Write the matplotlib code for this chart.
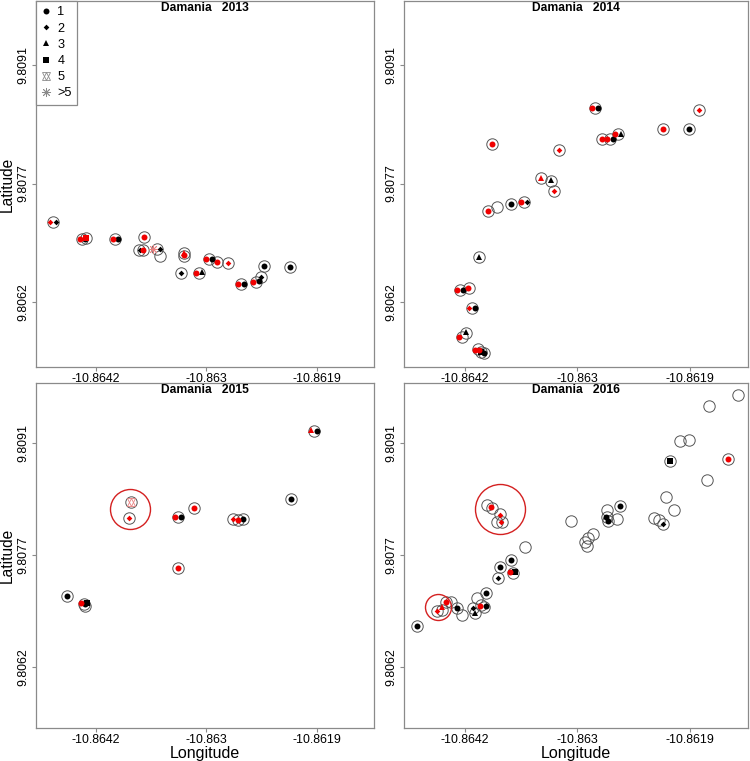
import matplotlib
matplotlib.use("Agg")
import matplotlib.pyplot as plt
from matplotlib.lines import Line2D
from matplotlib.legend_handler import HandlerTuple

plt.rcParams['font.family'] = ['Liberation Sans', 'DejaVu Sans']

# ---------------- data ----------------
years = ['2013', '2014', '2015', '2016']
x_ticks = [-10.86418, -10.86302, -10.86186]
x_tick_labels = ['-10.8642', '-10.863', '-10.8619']
y_ticks = [9.80622, 9.807675, 9.80913]
y_tick_labels = ['9.8062', '9.8077', '9.8091']
legend_labels = ['1', '2', '3', '4', '5', '>5']

# 2013
ring_lon_2013 = [-10.864634, -10.864329, -10.864287, -10.863982, -10.863678, -10.863726, -10.863691,
                 -10.863542, -10.863504, -10.863258, -10.863258, -10.863282, -10.862998, -10.862908,
                 -10.862790, -10.863095, -10.862654, -10.862502, -10.862443, -10.862415, -10.862138]
ring_lat_2013 = [9.807199, 9.806994, 9.807010, 9.806994, 9.807027, 9.806859, 9.806859,
                 9.806879, 9.806789, 9.806830, 9.806790, 9.806580, 9.806757, 9.806715,
                 9.806708, 9.806580, 9.806441, 9.806474, 9.806536, 9.806666, 9.806654]
blk_lon_2013 = [-10.864599, -10.864294, -10.863948, -10.863719, -10.863511, -10.863282, -10.862966,
                -10.863067, -10.862623, -10.862464, -10.862443, -10.862415, -10.862138]
blk_lat_2013 = [9.807199, 9.806994, 9.806994, 9.806859, 9.806879, 9.806580, 9.806757,
                9.806592, 9.806441, 9.806482, 9.806531, 9.806666, 9.806654]
blk_type_2013 = [2, 1, 1, 2, 2, 2, 1, 3, 1, 1, 2, 1, 1]
red_lon_2013 = [-10.864662, -10.864350, -10.864287, -10.864003, -10.863678, -10.863684, -10.863577,
                -10.863258, -10.863258, -10.863022, -10.862908, -10.862790, -10.863126, -10.862686,
                -10.862526]
red_lat_2013 = [9.807199, 9.806994, 9.807010, 9.806994, 9.807027, 9.806859, 9.806879,
                9.806795, 9.806820, 9.806757, 9.806715, 9.806708, 9.806580, 9.806441, 9.806474]
red_type_2013 = [2, 1, 4, 1, 1, 1, 6, 1, 3, 1, 1, 2, 1, 1, 1]
big_lon_2013, big_lat_2013, big_size_2013 = [], [], []

# 2014
ring_lon_2014 = [-10.862838, -10.861767, -10.862140, -10.861871, -10.862770, -10.862687, -10.862604,
                 -10.863903, -10.863211, -10.863398, -10.863294, -10.863260, -10.863571, -10.863703,
                 -10.863851, -10.863945, -10.864041, -10.864232, -10.864139, -10.864111, -10.864214,
                 -10.864170, -10.864048, -10.864014, -10.863989]
ring_lat_2014 = [9.808598, 9.808581, 9.808344, 9.808344, 9.808221, 9.808221, 9.808279,
                 9.808156, 9.808086, 9.807746, 9.807710, 9.807587, 9.807452, 9.807420,
                 9.807390, 9.807337, 9.806776, 9.806376, 9.806396, 9.806155, 9.805803,
                 9.805852, 9.805652, 9.805618, 9.805603]
blk_lon_2014 = [-10.862804, -10.861871, -10.862656, -10.862569, -10.863294, -10.863540, -10.863703,
                -10.864041, -10.864201, -10.864079, -10.864170, -10.864014, -10.863989]
blk_lat_2014 = [9.808598, 9.808344, 9.808221, 9.808279, 9.807718, 9.807452, 9.807420,
                9.806776, 9.806376, 9.806155, 9.805864, 9.805618, 9.805598]
blk_type_2014 = [1, 1, 1, 3, 3, 2, 1, 3, 1, 1, 3, 4, 1]
red_lon_2014 = [-10.862866, -10.861767, -10.862140, -10.862770, -10.862718, -10.862631, -10.863903,
                -10.863211, -10.863398, -10.863260, -10.863599, -10.863945, -10.864263, -10.864145,
                -10.864139, -10.864242, -10.864076, -10.864041]
red_lat_2014 = [9.808598, 9.808581, 9.808344, 9.808221, 9.808221, 9.808279, 9.808156,
                9.808086, 9.807746, 9.807587, 9.807452, 9.807337, 9.806376, 9.806396,
                9.806155, 9.805794, 9.805643, 9.805643]
red_type_2014 = [1, 2, 1, 1, 1, 1, 1, 2, 3, 2, 1, 1, 1, 1, 2, 1, 1, 1]
big_lon_2014, big_lat_2014, big_size_2014 = [], [], []

# 2015
ring_lon_2015 = [-10.861889, -10.862131, -10.863813, -10.863830, -10.863147, -10.863317, -10.862742,
                 -10.862686, -10.862634, -10.863317, -10.864489, -10.864302, -10.864294]
ring_lat_2015 = [9.809281, 9.808402, 9.808363, 9.808162, 9.808292, 9.808175, 9.808141,
                 9.808128, 9.808141, 9.807512, 9.807148, 9.807040, 9.807014]
blk_lon_2015 = [-10.861854, -10.862131, -10.863289, -10.862634, -10.864489, -10.864294, -10.864270]
blk_lat_2015 = [9.809286, 9.808402, 9.808175, 9.808141, 9.807148, 9.807040, 9.807049]
blk_type_2015 = [1, 1, 1, 1, 1, 1, 4]
red_lon_2015 = [-10.861923, -10.863813, -10.863830, -10.863147, -10.863351, -10.862742, -10.862693,
                -10.863317, -10.864336]
red_lat_2015 = [9.809294, 9.808363, 9.808162, 9.808292, 9.808175, 9.808141, 9.808128,
                9.807512, 9.807049]
red_type_2015 = [3, 5, 2, 1, 1, 2, 1, 1, 1]
big_lon_2015 = [-10.863823]
big_lat_2015 = [9.808279]
big_size_2015 = [20]

# 2016
ring_lon_2016 = [-10.861362, -10.861666, -10.861961, -10.861871, -10.861684, -10.862106, -10.862023,
                 -10.862234, -10.862174, -10.862140, -10.863091, -10.862856, -10.862908, -10.862946,
                 -10.862925, -10.862711, -10.862711, -10.862617, -10.862703, -10.862579, -10.862060,
                 -10.861466, -10.863564, -10.863955, -10.863903, -10.863823, -10.863851, -10.863799,
                 -10.863703, -10.863823, -10.863685, -10.863841, -10.863962, -10.864059, -10.864017,
                 -10.863983, -10.864093, -10.864076, -10.864214, -10.864266, -10.864328, -10.864377,
                 -10.864422, -10.864473, -10.864674]
ring_lat_2016 = [9.809749, 9.809611, 9.809151, 9.809164, 9.808653, 9.808431, 9.808262,
                 9.808162, 9.808132, 9.808076, 9.808123, 9.807950, 9.807894, 9.807850,
                 9.807798, 9.808262, 9.808175, 9.808141, 9.808123, 9.808314, 9.808891,
                 9.808926, 9.807785, 9.808327, 9.808284, 9.808210, 9.808110, 9.808110,
                 9.807612, 9.807525, 9.807447, 9.807374, 9.807187, 9.807114, 9.807027,
                 9.807004, 9.806984, 9.806919, 9.806896, 9.806984, 9.807062, 9.807070,
                 9.806962, 9.806949, 9.806757]
blk_lon_2016 = [-10.862060, -10.862579, -10.862721, -10.862703, -10.862140, -10.863703, -10.863823,
                -10.863661, -10.863841, -10.863962, -10.863962, -10.864093, -10.864076, -10.864266,
                -10.864674]
blk_lat_2016 = [9.808891, 9.808314, 9.808175, 9.808123, 9.808076, 9.807612, 9.807525,
                9.807460, 9.807374, 9.807187, 9.807014, 9.806984, 9.806919, 9.806984,
                9.806757]
blk_type_2016 = [4, 1, 1, 1, 2, 1, 1, 4, 2, 1, 1, 2, 3, 1, 1]
red_lon_2016 = [-10.861466, -10.863910, -10.863823, -10.863805, -10.863713, -10.864024, -10.864377,
                -10.864422, -10.864466]
red_lat_2016 = [9.808926, 9.808297, 9.808193, 9.808110, 9.807460, 9.807014, 9.807070,
                9.806997, 9.806952]
red_type_2016 = [1, 1, 2, 2, 1, 1, 1, 3, 2]
big_lon_2016 = [-10.863817, -10.864456]
big_lat_2016 = [9.808275, 9.807004]
big_size_2016 = [25, 13]

panels = {
    '2013': (ring_lon_2013, ring_lat_2013, blk_lon_2013, blk_lat_2013, blk_type_2013,
             red_lon_2013, red_lat_2013, red_type_2013, big_lon_2013, big_lat_2013, big_size_2013),
    '2014': (ring_lon_2014, ring_lat_2014, blk_lon_2014, blk_lat_2014, blk_type_2014,
             red_lon_2014, red_lat_2014, red_type_2014, big_lon_2014, big_lat_2014, big_size_2014),
    '2015': (ring_lon_2015, ring_lat_2015, blk_lon_2015, blk_lat_2015, blk_type_2015,
             red_lon_2015, red_lat_2015, red_type_2015, big_lon_2015, big_lat_2015, big_size_2015),
    '2016': (ring_lon_2016, ring_lat_2016, blk_lon_2016, blk_lat_2016, blk_type_2016,
             red_lon_2016, red_lat_2016, red_type_2016, big_lon_2016, big_lat_2016, big_size_2016),
}

# ---------------- style ----------------
RED = '#F00000'
PALE_RED = '#e88080'
GRAY = '#8a8a8a'
RING = '#555555'
MSTYLE = {
    1: dict(marker='o', ms=4.3),
    2: dict(marker='D', ms=2.9),
    3: dict(marker='^', ms=5.0),
    4: dict(marker='s', ms=4.0),
}


def draw_marker(ax, x, y, t, color, z=4):
    if t in MSTYLE:
        ax.plot([x], [y], ls='none', color=color, mec=color, mew=0, zorder=z, **MSTYLE[t])
    else:
        c = PALE_RED if color == RED else color
        if t == 5:
            for m in ('^', 'v'):
                ax.plot([x], [y], ls='none', marker=m, ms=5.5, mfc='none', mec=c, mew=0.6, zorder=z)
        else:
            ax.plot([x], [y], ls='none', marker=(8, 2, 0), ms=6.5, mec=c, mew=0.6, zorder=z)


fig = plt.figure(figsize=(7.5, 7.61), dpi=100)
W, H = 750.0, 761.0
rects = {
    '2013': [36 / W, 1 - 367 / H, 338 / W, 366 / H],
    '2014': [404 / W, 1 - 367 / H, 344 / W, 366 / H],
    '2015': [36 / W, 1 - 728 / H, 338 / W, 345 / H],
    '2016': [404 / W, 1 - 728 / H, 344 / W, 345 / H],
}

for yr in years:
    ax = fig.add_axes(rects[yr])
    (rlon, rlat, blon, blat, btyp, qlon, qlat, qtyp, glon, glat, gsz) = panels[yr]
    ax.plot(rlon, rlat, ls='none', marker='o', ms=8.2, mfc='none', mec=RING, mew=0.7, zorder=2)
    for x, y, s in zip(glon, glat, gsz):
        ax.plot([x], [y], ls='none', marker='o', ms=2 * s * 0.72, mfc='none', mec='#d42020',
                mew=1.0, zorder=3)
    for x, y, t in zip(blon, blat, btyp):
        draw_marker(ax, x, y, t, 'black', 4)
    for x, y, t in zip(qlon, qlat, qtyp):
        draw_marker(ax, x, y, t, RED, 5)

    ax.set_xlim(-10.86481, -10.86126)
    ax.set_ylim(9.80543, 9.80991)
    ax.set_xticks(x_ticks)
    ax.set_xticklabels(x_tick_labels)
    ax.set_yticks(y_ticks)
    ax.set_yticklabels(y_tick_labels, rotation=90, va='center')
    ax.tick_params(axis='both', labelsize=8.9, color=GRAY, length=3, width=0.8)
    ax.tick_params(axis='x', pad=1.5)
    ax.tick_params(axis='y', pad=1.5)
    for sp in ax.spines.values():
        sp.set_color(GRAY)
        sp.set_linewidth(0.9)
    ax.text(0.5, 0.997, 'Damania   ' + yr, transform=ax.transAxes, ha='center', va='top',
            fontsize=8.7, fontweight='bold')
    if yr in ('2013', '2015'):
        ax.set_ylabel('Latitude', fontsize=11.2)
        ax.yaxis.label.set_verticalalignment('center')
        ax.yaxis.set_label_coords(-28.5 / 338.0, 0.5)
    if yr in ('2015', '2016'):
        ax.set_xlabel('Longitude', fontsize=11.5, labelpad=0)

    if yr == '2013':
        handles = [Line2D([], [], ls='none', color='black', mew=0, **MSTYLE[k]) for k in (1, 2, 3, 4)]
        h5 = (Line2D([], [], ls='none', marker='^', ms=5.5, mfc='none', mec=GRAY, mew=0.6),
              Line2D([], [], ls='none', marker='v', ms=5.5, mfc='none', mec=GRAY, mew=0.6))
        h6 = Line2D([], [], ls='none', marker=(8, 2, 0), ms=6.5, mec=GRAY, mew=0.6)
        handles += [h5, h6]
        leg = ax.legend(handles, legend_labels, loc='upper left', bbox_to_anchor=(0, 1),
                        borderaxespad=0, fontsize=9.2, handlelength=0.8, handletextpad=0.45,
                        labelspacing=0.33, borderpad=0.42, fancybox=False, framealpha=1,
                        edgecolor=GRAY, handler_map={tuple: HandlerTuple(ndivide=1, pad=0)})
        leg.get_frame().set_linewidth(0.9)

fig.savefig('out.png', dpi=100)
